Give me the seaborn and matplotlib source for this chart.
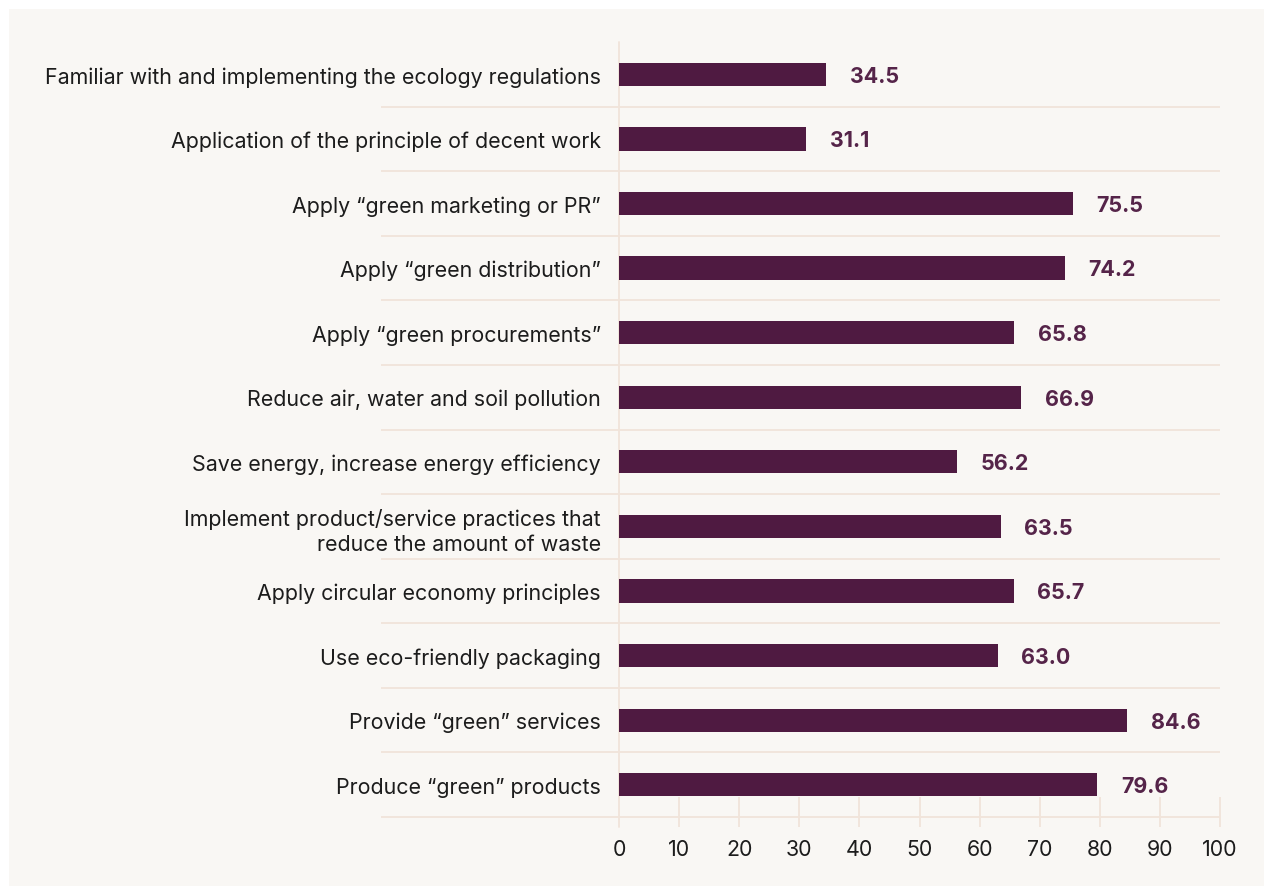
import matplotlib
matplotlib.use("Agg")
import matplotlib.pyplot as plt
import matplotlib.transforms as mtransforms
from matplotlib.patches import Rectangle
import seaborn as sns
import pandas as pd

# data
categories = [
    "Familiar with and implementing the ecology regulations",
    "Application of the principle of decent work",
    "Apply \u201cgreen marketing or PR\u201d",
    "Apply \u201cgreen distribution\u201d",
    "Apply \u201cgreen procurements\u201d",
    "Reduce air, water and soil pollution",
    "Save energy, increase energy efficiency",
    "Implement product/service practices that\nreduce the amount of waste",
    "Apply circular economy principles",
    "Use eco-friendly packaging",
    "Provide \u201cgreen\u201d services",
    "Produce \u201cgreen\u201d products",
]
values = [34.5, 31.1, 75.5, 74.2, 65.8, 66.9, 56.2, 63.5, 65.7, 63.0, 84.6, 79.6]
x_ticks = [0, 10, 20, 30, 40, 50, 60, 70, 80, 90, 100]

bar_color = "#4f1a41"
label_color = "#552449"
grid_color = "#f1e4da"
panel_color = "#f9f7f4"
text_color = "#1c1c1c"

sns.set_style("white")
plt.rcParams["font.family"] = ["Inter", "DejaVu Sans"]

df = pd.DataFrame({"category": categories, "value": values})

fig = plt.figure(figsize=(12.7, 8.87), dpi=100, facecolor="white")
W, H = 1270, 887
fig.patches.append(Rectangle((9 / W, 0), (1264 - 9) / W, (887 - 10) / H,
                             transform=fig.transFigure, facecolor=panel_color,
                             edgecolor="none", zorder=-10))

ax = fig.add_axes([619 / W, 1 - 818 / H, (1220 - 619) / W, (818 - 43) / H])
ax.set_facecolor("none")

sns.barplot(data=df, x="value", y="category", orient="h", color=bar_color,
            width=0.36, saturation=1, linewidth=0, ax=ax, zorder=3)

ax.set_xlim(0, 100)
ax.set_ylim(len(categories) - 0.5, -0.5)
ax.set_xlabel("")
ax.set_ylabel("")
for s in ax.spines.values():
    s.set_visible(False)

# separators between rows, reaching into the label area
sep = mtransforms.blended_transform_factory(ax.transAxes, ax.transData)
ax.hlines([i + 0.5 for i in range(len(categories))], (381 - 619) / 601, 1,
          transform=sep, color=grid_color, lw=1.3, clip_on=False, zorder=1)

# vertical zero line and tick marks
ax.axvline(0, ymin=-10 / 775, ymax=1, color=grid_color, lw=1.3, clip_on=False, zorder=1)
tick_tr = mtransforms.blended_transform_factory(ax.transData, ax.transAxes)
ax.vlines(x_ticks[1:], -10 / 775, 20 / 775, transform=tick_tr, color=grid_color,
          lw=1.3, clip_on=False, zorder=1)

ax.set_xticks(x_ticks)
ax.tick_params(axis="x", length=0, pad=16, labelsize=15.4, labelcolor=text_color)
ax.tick_params(axis="y", length=0, pad=13, labelsize=15.4, labelcolor=text_color)
for lab in ax.get_yticklabels():
    lab.set_linespacing(1.3)

for i, v in enumerate(values):
    ax.annotate(f"{v:.1f}", (v, i), xytext=(17, -1), textcoords="offset points",
                ha="left", va="center", fontsize=15.4, fontweight="bold",
                color=label_color)

fig.savefig("out.png", dpi=100, facecolor="white")
